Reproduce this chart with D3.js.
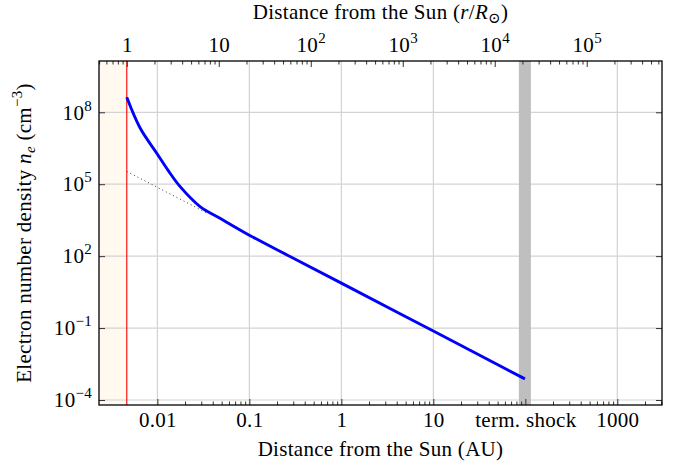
<!DOCTYPE html>
<html>
<head>
<meta charset="utf-8">
<script src="https://cdn.jsdelivr.net/npm/d3@7"></script>
<style>
  body { margin: 0; background: #fff; }
  text { font-family: "Liberation Serif", "DejaVu Serif", serif; fill: #000; letter-spacing: 0.3px; }
</style>
</head>
<body>
<div id="chart"></div>
<script>
// data
const solarRadiiPerAU = 215;
const distanceAU = [0.00465, 0.00649, 0.00985, 0.0132, 0.0177, 0.0291, 0.048, 0.1, 0.277, 1, 10, 99];
const density = [4.2e8, 2.2e7, 1.96e6, 3.6e5, 7.9e4, 1.17e4, 3.8e3, 750, 96, 7.5, 0.075, 7.6e-4];
const extrapAU = [0.00465, 0.035];
const extrapDensity = [3.4e5, 6.1e3];
const shockAU = [85, 115];
const auTicks = [0.01, 0.1, 1, 10, 100, 1000];
const auTickLabels = ["0.01", "0.1", "1", "10", "term. shock", "1000"];
const rTicks = [1, 10, 100, 1e3, 1e4, 1e5];
const rTickExp = [null, null, "2", "3", "4", "5"];
const yTicks = [1e-4, 1e-1, 1e2, 1e5, 1e8];
const yTickExp = ["\u22124", "\u22121", "2", "5", "8"];

let margin = { top: 61, right: 15, bottom: 61, left: 99 };
let width = 677 - margin.left - margin.right,
    height = 466 - margin.top - margin.bottom;

let svg = d3.select("#chart").append("svg")
    .attr("width", 677)
    .attr("height", 466)
    .append("g")
    .attr("transform", "translate(" + margin.left + "," + margin.top + ")");

let x = d3.scaleLog().domain([0.00232, 3060]).range([0, width]);
let y = d3.scaleLog().domain([Math.pow(10, -4.2085), Math.pow(10, 10.139)]).range([height, 0]);
let xr = d => x(d / solarRadiiPerAU);

// sun interior fill
svg.append("rect")
    .attr("x", 0).attr("y", 0)
    .attr("width", xr(1)).attr("height", height)
    .style("fill", "#fff9f0");

// grid
svg.selectAll(".vgrid").data(auTicks).enter().append("line")
    .attr("x1", d => x(d)).attr("x2", d => x(d))
    .attr("y1", 0).attr("y2", height)
    .style("stroke", "#d3d3d3").style("stroke-width", 1.2);
svg.selectAll(".hgrid").data(yTicks).enter().append("line")
    .attr("x1", 0).attr("x2", width)
    .attr("y1", d => y(d)).attr("y2", d => y(d))
    .style("stroke", "#d3d3d3").style("stroke-width", 1.2);

// termination shock band
svg.append("rect")
    .attr("x", x(shockAU[0])).attr("y", 0)
    .attr("width", x(shockAU[1]) - x(shockAU[0])).attr("height", height)
    .style("fill", "#bfbfbf");

// solar surface
svg.append("line")
    .attr("x1", xr(1)).attr("x2", xr(1))
    .attr("y1", 0).attr("y2", height)
    .style("stroke", "#ff0000").style("stroke-width", 1.1);

// r^-2 extrapolation
svg.append("path")
    .datum(d3.zip(extrapAU, extrapDensity))
    .attr("d", d3.line().x(d => x(d[0])).y(d => y(d[1])))
    .style("fill", "none").style("stroke", "#333")
    .style("stroke-width", 1).style("stroke-dasharray", "1,3");

// density curve
svg.append("path")
    .datum(d3.zip(distanceAU, density))
    .attr("d", d3.line().x(d => x(d[0])).y(d => y(d[1])).curve(d3.curveCatmullRom.alpha(0.5)))
    .style("fill", "none").style("stroke", "#0000ff")
    .style("stroke-width", 2.9).style("stroke-linejoin", "round");

// minor tick values
let minorAU = [], minorR = [];
for (let e = -2; e <= 3; e++) for (let k = 2; k <= 9; k++) {
    let v = k * Math.pow(10, e);
    if (v < x.domain()[1]) minorAU.push(v);
}
for (let e = -1; e <= 5; e++) for (let k = 2; k <= 9; k++) {
    let v = k * Math.pow(10, e);
    let a = v / solarRadiiPerAU;
    if (a > x.domain()[0] && a < x.domain()[1]) minorR.push(v);
}

function styleAxis(g) {
    g.select(".domain").remove();
    g.selectAll("line").style("stroke", "#333").style("stroke-width", 1);
}

// bottom axis
svg.append("g")
    .attr("transform", "translate(0," + height + ")")
    .call(d3.axisBottom(x).tickValues(minorAU).tickSize(-3.5).tickFormat(""))
    .call(styleAxis);
let xAxisG = svg.append("g")
    .attr("transform", "translate(0," + height + ")")
    .call(d3.axisBottom(x).tickValues(auTicks).tickSize(-6).tickPadding(7)
        .tickFormat((d, i) => auTickLabels[i]))
    .call(styleAxis);
xAxisG.selectAll("text").style("font-size", "21px").attr("font-family", null).attr("fill", "#000");

// top axis (solar radii)
svg.append("g")
    .call(d3.axisTop(x).tickValues(minorR.map(d => d / solarRadiiPerAU)).tickSize(-3.5).tickFormat(""))
    .call(styleAxis);
let topAxisG = svg.append("g")
    .call(d3.axisTop(x).tickValues(rTicks.map(d => d / solarRadiiPerAU)).tickSize(-6).tickFormat(""))
    .call(styleAxis);
topAxisG.selectAll(".tick").append("text")
    .attr("y", -9)
    .attr("text-anchor", "middle")
    .style("font-size", "21px")
    .each(function(d, i) {
        let t = d3.select(this);
        if (rTickExp[i] === null) {
            t.text(rTicks[i]);
        } else {
            t.append("tspan").text("10");
            t.append("tspan").attr("dy", -9).style("font-size", "15px").text(rTickExp[i]);
        }
    });

// left and right axes
let leftAxisG = svg.append("g")
    .call(d3.axisLeft(y).tickValues(yTicks).tickSize(-6).tickFormat(""))
    .call(styleAxis);
leftAxisG.selectAll(".tick").append("text")
    .attr("x", -7).attr("dy", "0.32em")
    .attr("text-anchor", "end")
    .style("font-size", "21px")
    .each(function(d, i) {
        let t = d3.select(this);
        t.append("tspan").text("10");
        t.append("tspan").attr("dy", -9).style("font-size", "15px").text(yTickExp[i]);
    });
svg.append("g")
    .attr("transform", "translate(" + width + ",0)")
    .call(d3.axisRight(y).tickValues(yTicks).tickSize(-6).tickFormat(""))
    .call(styleAxis);

// frame
svg.append("rect")
    .attr("width", width).attr("height", height)
    .style("fill", "none").style("stroke", "#000").style("stroke-width", 1.3);

// axis titles
svg.append("text")
    .attr("x", width / 2).attr("y", height + 51)
    .attr("text-anchor", "middle").style("font-size", "21px")
    .text("Distance from the Sun (AU)");

let topTitle = svg.append("text")
    .attr("x", width / 2).attr("y", -42)
    .attr("text-anchor", "middle").style("font-size", "21px");
topTitle.append("tspan").text("Distance from the Sun (");
topTitle.append("tspan").style("font-style", "italic").text("r");
topTitle.append("tspan").text("/");
topTitle.append("tspan").style("font-style", "italic").text("R");
topTitle.append("tspan").attr("dy", 4).style("font-size", "15px").text("\u2299");
topTitle.append("tspan").attr("dy", -4).text(")");

let yTitle = svg.append("text")
    .attr("transform", "translate(-68," + height / 2 + ") rotate(-90)")
    .attr("text-anchor", "middle").style("font-size", "21px");
yTitle.append("tspan").text("Electron number density ");
yTitle.append("tspan").style("font-style", "italic").text("n");
yTitle.append("tspan").attr("dy", 4).style("font-size", "15px").style("font-style", "italic").text("e");
yTitle.append("tspan").attr("dy", -4).text(" (cm");
yTitle.append("tspan").attr("dy", -9).style("font-size", "15px").text("\u22123");
yTitle.append("tspan").attr("dy", 9).text(")");
</script>
</body>
</html>
